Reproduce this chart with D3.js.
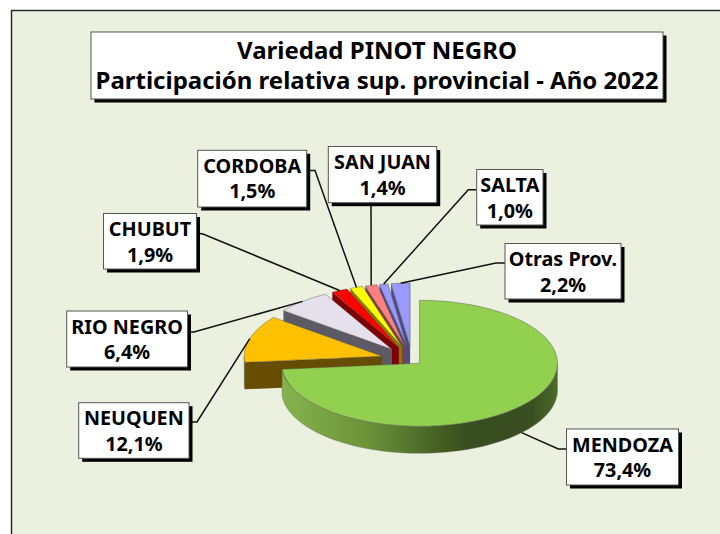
<!DOCTYPE html>
<html><head><meta charset="utf-8">
<script src="https://cdn.jsdelivr.net/npm/d3@7"></script>
<style>html,body{margin:0;padding:0;background:#fff}svg{display:block}
text{font-family:"Noto Sans",sans-serif;font-weight:700;fill:#000;text-anchor:middle}</style>
</head><body><svg id="c" width="720" height="534"></svg>
<script>
// DATA
const categories = ["MENDOZA","NEUQUEN","RIO NEGRO","CHUBUT","CORDOBA","SAN JUAN","SALTA","Otras Prov."];
const shares     = [73.4,12.1,6.4,1.9,1.5,1.4,1.0,2.2];
const titleLines = ["Variedad PINOT NEGRO","Participación relativa sup. provincial - Año 2022"];

// STYLE / LAYOUT
const topColors  = ["#92d050","#ffc000","#e6e0ec","#ff0000","#ffff00","#ff8080","#9999ff","#9999ff"];
const wallColors = ["url(#gw)","#664d00","#5c5a64","#7f0000","#7f7f00","#804040","#4d4d80","#4d4d80"];
const explodes   = [0.07,0.227,0.227,0.227,0.227,0.227,0.227,0.227];
const boxes = [[566.5,429,112,56],[78.7,402.7,110.3,55.6],[66.7,311,120.8,56],[103.5,213.5,93,55.5],
               [197.7,150.3,109,56.7],[328.3,146.5,108.4,56.2],[476.7,169.5,66.3,55.5],[505,243.5,116,55.5]];
const elbows = [[[566.5,449],[558.3,449]],[[189,422],[197,422]],[[187.5,332],[194,332]],[[196.5,233],[203,234]],
                [[306.7,170.5],[315,170.5]],[[371,202.7]],[[476.7,189.7],[468.3,189.7]],[[505,263],[496,263]]];

const svg = d3.select("#c");
const defs = svg.append("defs");
const gw = defs.append("linearGradient").attr("id","gw").attr("gradientUnits","userSpaceOnUse")
  .attr("x1",282).attr("x2",558).attr("y1",0).attr("y2",0);
[[0,"#86b34e"],[.3,"#6d9439"],[.45,"#56782e"],[.6,"#41581f"],[.68,"#384d20"],[.9,"#384d20"],[1,"#4c6c2a"]]
  .forEach(s=>gw.append("stop").attr("offset",s[0]).attr("stop-color",s[1]));

svg.append("rect").attr("x",11.5).attr("y",10.5).attr("width",720).attr("height",540)
  .attr("fill","#ebf0df").attr("stroke","#222").attr("stroke-width",1.4);

// pie geometry
const cx=412.3, cy=360.3, rx=138, ry=63, depth=27;
const sx=d3.scaleLinear().domain([-1,1]).range([cx-rx,cx+rx]);
const sy=d3.scaleLinear().domain([-1,1]).range([cy-ry,cy+ry]);
const arcs=d3.pie().sort(null).value(d=>d).startAngle(0).endAngle(2*Math.PI)(shares);
const line=d3.line();
const slices=arcs.map((a,i)=>{
  const mid=(a.startAngle+a.endAngle)/2, e=explodes[i];
  const ox=sx(e*Math.sin(mid)), oy=sy(-e*Math.cos(mid));
  const pt=t=>[ox+(sx(Math.sin(t))-cx), oy+(sy(-Math.cos(t))-cy)];
  return {a,i,mid,pt,apex:[ox,oy]};
});
const pathOf=p=>line(p)+"Z";
const steps=(a,b)=>d3.range(0,61).map(k=>a+(b-a)*k/60);
const dn=p=>[p[0],p[1]+depth];

const pie=svg.append("g");
// back to front: last slice first, Mendoza last
slices.slice().reverse().forEach(s=>{
  const {a,i,pt,apex}=s, g=pie.append("g");
  const e0=pt(a.startAngle);
  // wall on the first radial edge (not seen for Mendoza, whose edge is vertical)
  if(i>0) g.append("path").attr("d",pathOf([apex,e0,dn(e0),dn(apex)])).attr("fill",wallColors[i]);
  // outer wall over the front half
  const lo=Math.max(a.startAngle,Math.PI/2), hi=Math.min(a.endAngle,1.5*Math.PI);
  if(hi>lo){
    const rim=steps(lo,hi).map(pt);
    g.append("path").attr("d",pathOf(rim.concat(rim.slice().reverse().map(dn)))).attr("fill",wallColors[i])
      .attr("stroke","#666").attr("stroke-width",.4);
  }
  g.append("path").attr("d",pathOf([apex].concat(steps(a.startAngle,a.endAngle).map(pt))))
    .attr("fill",topColors[i]).attr("stroke","#555").attr("stroke-opacity",.65).attr("stroke-width",.7);
});

// leaders, ending on the slice rim
slices.forEach(s=>{
  let end=s.pt(s.mid); if(s.i===0) end=dn(end);
  svg.append("path").attr("d",line(elbows[s.i].concat([end]))).attr("fill","none")
    .attr("stroke","#111").attr("stroke-width",1.5);
});

function box(x,y,w,h){
  svg.append("rect").attr("x",x+3.5).attr("y",y+3.5).attr("width",w).attr("height",h).attr("fill","#000");
  svg.append("rect").attr("x",x).attr("y",y).attr("width",w).attr("height",h)
    .attr("fill","#fff").attr("stroke","#555").attr("stroke-width",1);
}
box(91,32,572,67);
titleLines.forEach((t,i)=>svg.append("text").attr("x",377).attr("y",[59.3,89.3][i])
  .attr("font-size",24).text(t));
categories.forEach((c,i)=>{
  const [x,y,w,h]=boxes[i];
  box(x,y,w,h);
  svg.append("text").attr("x",x+w/2).attr("y",y+22.5).attr("font-size",19.8).text(c);
  svg.append("text").attr("x",x+w/2).attr("y",y+48).attr("font-size",19.8)
    .text(shares[i].toFixed(1).replace(".",",")+"%");
});
</script></body></html>
